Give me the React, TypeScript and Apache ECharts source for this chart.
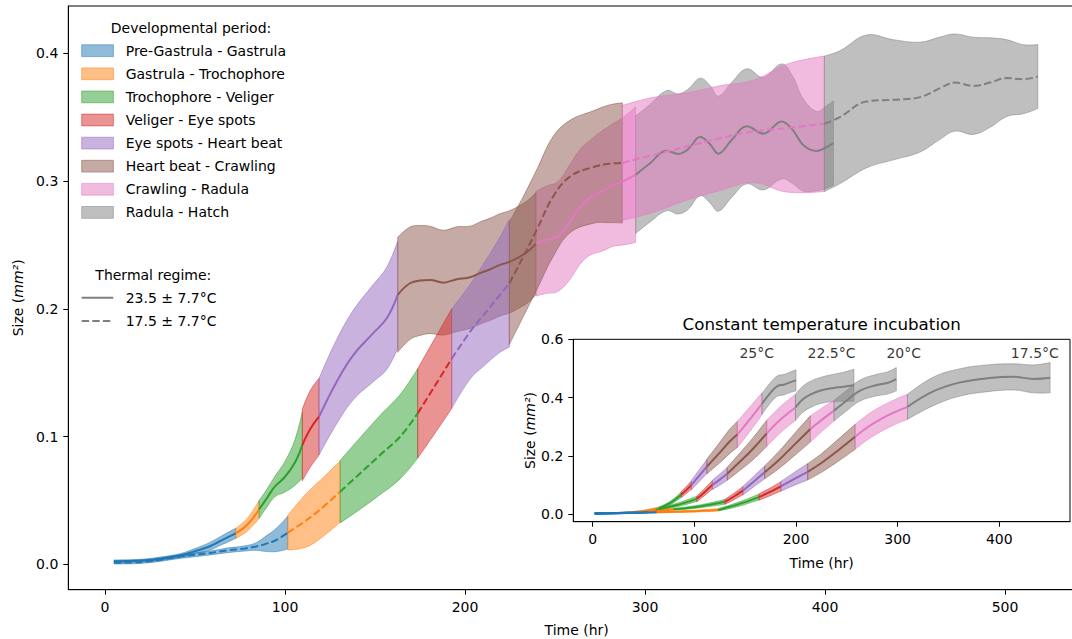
import React, { useEffect, useRef } from "react";
import * as echarts from "echarts";

const FONT = "DejaVu Sans";

const PERIODS = [
  "Pre-Gastrula - Gastrula",
  "Gastrula - Trochophore",
  "Trochophore - Veliger",
  "Veliger - Eye spots",
  "Eye spots - Heart beat",
  "Heart beat - Crawling",
  "Crawling - Radula",
  "Radula - Hatch",
];
const COLORS = ["#1f77b4", "#ff7f0e", "#2ca02c", "#d62728", "#9467bd", "#8c564b", "#e377c2", "#7f7f7f"];
const REGIMES = ["23.5 ± 7.7°C", "17.5 ± 7.7°C"];

// ---- Main chart: 23.5 ± 7.7°C regime (solid) ----
const WARM_X = [
  [5, 20, 31.5, 42, 50, 58, 65, 72.6],
  [72.6, 79, 85.6],
  [85.6, 90, 94.4, 100, 105.6, 109.6],
  [109.6, 114, 118.9],
  [118.9, 128.7, 138, 149, 156.5, 162.6],
  [162.6, 169.4, 175, 180.6, 188, 195.4, 202.8, 208.3, 214, 219.4, 225, 230.6, 235, 239.4],
  [239.4, 245, 251.5, 258.3, 264, 269.4, 276, 282.4, 288, 294.8],
  [294.8, 302.8, 312, 318.5, 324, 330.6, 336, 340.7, 348, 356.5, 365.7, 375.9, 382, 388, 395.4, 400, 404.6],
];
const WARM_MEAN = [
  [0.0025, 0.003, 0.0047, 0.007, 0.0104, 0.014, 0.019, 0.0243],
  [0.0243, 0.031, 0.043],
  [0.043, 0.052, 0.061, 0.0686, 0.08, 0.0934],
  [0.0934, 0.106, 0.1156],
  [0.1156, 0.143, 0.164, 0.181, 0.1926, 0.211],
  [0.211, 0.22, 0.2222, 0.2226, 0.2205, 0.2232, 0.2247, 0.228, 0.231, 0.2344, 0.237, 0.241, 0.245, 0.251],
  [0.251, 0.254, 0.2565, 0.268, 0.28, 0.287, 0.292, 0.297, 0.3, 0.305],
  [0.305, 0.314, 0.3238, 0.3212, 0.325, 0.3345, 0.329, 0.3214, 0.332, 0.3428, 0.3371, 0.3467, 0.34, 0.328, 0.3235, 0.326, 0.3296],
];
const WARM_SD = [
  [0.001, 0.001, 0.0012, 0.0015, 0.002, 0.003, 0.0035, 0.004],
  [0.004, 0.005, 0.007],
  [0.007, 0.007, 0.008, 0.012, 0.018, 0.026],
  [0.028, 0.03, 0.03],
  [0.03, 0.033, 0.035, 0.038, 0.04, 0.042],
  [0.045, 0.044, 0.043, 0.042, 0.041, 0.041, 0.04, 0.04, 0.04, 0.04, 0.04, 0.04, 0.04, 0.04],
  [0.041, 0.042, 0.043, 0.045, 0.045, 0.045, 0.047, 0.048, 0.05, 0.053],
  [0.046, 0.046, 0.047, 0.047, 0.047, 0.046, 0.046, 0.045, 0.045, 0.045, 0.044, 0.045, 0.042, 0.036, 0.031, 0.032, 0.033],
];

// ---- Main chart: 17.5 ± 7.7°C regime (dashed) ----
const COOL_X = [
  [5, 15, 22.2, 30, 40.7, 50, 59.3, 68, 77.8, 84, 88.9, 95, 101.5],
  [101.5, 112, 121.3, 130.6],
  [130.6, 141.7, 152.8, 163.9, 173.7],
  [173.7, 182.4, 192.6],
  [192.6, 202.8, 210.2, 219.4, 224.6],
  [224.6, 232.4, 239.8, 249, 258.3, 271.3, 280, 287.4],
  [287.4, 304.6, 323, 341.7, 360, 378.7, 399.6],
  [399.6, 408.3, 423, 438, 452.8, 463.9, 472.2, 482.4, 491.7, 501, 510.2, 518.2],
];
const COOL_MEAN = [
  [0.0013, 0.0015, 0.002, 0.0035, 0.006, 0.0075, 0.0091, 0.011, 0.0125, 0.014, 0.0159, 0.019, 0.0248],
  [0.0248, 0.0347, 0.0451, 0.0569],
  [0.0569, 0.0712, 0.0856, 0.0999, 0.1182],
  [0.1182, 0.1378, 0.161],
  [0.161, 0.182, 0.195, 0.211, 0.22],
  [0.22, 0.241, 0.2618, 0.288, 0.3035, 0.311, 0.3135, 0.3142],
  [0.3142, 0.3205, 0.327, 0.3336, 0.3388, 0.3414, 0.3448],
  [0.3448, 0.35, 0.3623, 0.3636, 0.3657, 0.3727, 0.3771, 0.3745, 0.3771, 0.3806, 0.3797, 0.3818],
];
const COOL_SD = [
  [0.001, 0.001, 0.001, 0.0012, 0.0015, 0.0015, 0.0015, 0.0018, 0.002, 0.003, 0.0057, 0.009, 0.0128],
  [0.0135, 0.021, 0.023, 0.024],
  [0.0245, 0.028, 0.031, 0.033, 0.035],
  [0.035, 0.037, 0.039],
  [0.039, 0.037, 0.04, 0.045, 0.05],
  [0.048, 0.047, 0.047, 0.047, 0.044, 0.044, 0.046, 0.047],
  [0.045, 0.045, 0.042, 0.041, 0.04, 0.05, 0.053],
  [0.053, 0.052, 0.052, 0.047, 0.043, 0.04, 0.038, 0.038, 0.035, 0.03, 0.027, 0.025],
];

// ---- Inset: constant temperature incubation ----
const INSET_TEMPS = ["25°C", "22.5°C", "20°C", "17.5°C"];
const TEMP_LABEL_X = [161.4, 235, 306, 435];
const TEMP_LABEL_Y = 0.554;

const T25_X = [[2, 18, 36], [36, 50, 65], [65, 76, 87], [87, 92, 97], [97, 104, 112.3], [112.3, 125, 135, 142.3], [142.3, 155, 166.5], [166.5, 175, 182, 188, 194, 200]];
const T25_MEAN = [[0.002, 0.003, 0.005], [0.005, 0.01, 0.02], [0.02, 0.037, 0.066], [0.066, 0.082, 0.099], [0.099, 0.128, 0.163], [0.163, 0.211, 0.25, 0.273], [0.273, 0.327, 0.378], [0.378, 0.417, 0.44, 0.444, 0.452, 0.459]];
const T25_SD = [[0.0015, 0.0015, 0.002], [0.002, 0.003, 0.004], [0.004, 0.006, 0.009], [0.01, 0.012, 0.014], [0.016, 0.02, 0.024], [0.025, 0.035, 0.042, 0.045], [0.045, 0.042, 0.038], [0.036, 0.035, 0.035, 0.035, 0.035, 0.036]];

const T225_X = [[2, 25, 45], [45, 55, 62], [62, 82, 102.4], [102.4, 110, 117.7], [117.7, 125, 132.4], [132.4, 145, 158, 171.2], [171.2, 185, 199.5], [199.5, 207, 215, 225, 237, 247, 257]];
const T225_MEAN = [[0.002, 0.003, 0.006], [0.006, 0.01, 0.014], [0.014, 0.03, 0.052], [0.052, 0.075, 0.1], [0.1, 0.118, 0.138], [0.138, 0.18, 0.225, 0.277], [0.277, 0.325, 0.366], [0.366, 0.395, 0.412, 0.425, 0.433, 0.437, 0.442]];
const T225_SD = [[0.0015, 0.0015, 0.002], [0.002, 0.003, 0.003], [0.003, 0.006, 0.009], [0.01, 0.012, 0.015], [0.016, 0.019, 0.022], [0.022, 0.03, 0.038, 0.045], [0.045, 0.045, 0.045], [0.045, 0.045, 0.045, 0.045, 0.047, 0.05, 0.055]];

const T20_X = [[2, 30, 55], [55, 68, 80], [80, 105, 130.1], [130.1, 139, 147.7], [147.7, 158, 169.2], [169.2, 184, 199, 214.1], [214.1, 226, 237.4], [237.4, 250, 263, 279.5, 290, 298.7]];
const T20_MEAN = [[0.002, 0.003, 0.007], [0.007, 0.011, 0.016], [0.016, 0.026, 0.042], [0.042, 0.06, 0.08], [0.08, 0.11, 0.143], [0.143, 0.188, 0.24, 0.292], [0.292, 0.325, 0.355], [0.355, 0.39, 0.424, 0.443, 0.45, 0.463]];
const T20_SD = [[0.0015, 0.0015, 0.002], [0.002, 0.003, 0.003], [0.003, 0.005, 0.008], [0.009, 0.011, 0.014], [0.015, 0.018, 0.022], [0.022, 0.03, 0.038, 0.045], [0.045, 0.04, 0.036], [0.035, 0.035, 0.036, 0.037, 0.038, 0.04]];

const T175_X = [[2, 35, 63], [63, 95, 123.4], [123.4, 143, 163.5], [163.5, 174, 185.1], [185.1, 198, 211.5], [211.5, 225, 242, 258.2], [258.2, 270, 283, 296, 309.7], [309.7, 335, 361.5, 388, 414, 434, 450]];
const T175_MEAN = [[0.002, 0.003, 0.006], [0.006, 0.009, 0.014], [0.014, 0.033, 0.058], [0.058, 0.075, 0.095], [0.095, 0.12, 0.145], [0.145, 0.175, 0.22, 0.265], [0.265, 0.297, 0.325, 0.348, 0.368], [0.368, 0.421, 0.452, 0.466, 0.471, 0.464, 0.468]];
const T175_SD = [[0.0015, 0.0015, 0.002], [0.002, 0.003, 0.004], [0.004, 0.007, 0.01], [0.011, 0.013, 0.016], [0.017, 0.022, 0.028], [0.028, 0.032, 0.038, 0.043], [0.043, 0.043, 0.043, 0.043, 0.043], [0.043, 0.049, 0.047, 0.046, 0.045, 0.048, 0.052]];

const MAIN_X_TICKS = [0, 100, 200, 300, 400, 500];
const MAIN_Y_TICKS = [0, 0.1, 0.2, 0.3, 0.4];
const INSET_X_TICKS = [0, 100, 200, 300, 400];
const INSET_Y_TICKS = [0, 0.2, 0.4, 0.6];

function rgba(hex: string, a: number) {
  const n = parseInt(hex.slice(1), 16);
  return `rgba(${(n >> 16) & 255},${(n >> 8) & 255},${n & 255},${a})`;
}

const SMOOTH = 0.4;

// Bezier path through pixel points (same control-point rule as ECharts' smooth lines)
function smoothPath(pts: number[][], smooth: number, move: boolean) {
  const n = pts.length;
  let d = (move ? "M" : "L") + pts[0][0] + "," + pts[0][1];
  const cps = pts.map((p, i) => {
    if (i === 0 || i === n - 1) return [p, p];
    const prev = pts[i - 1];
    const next = pts[i + 1];
    const vx = (next[0] - prev[0]) * smooth;
    const vy = (next[1] - prev[1]) * smooth;
    const d0 = Math.hypot(p[0] - prev[0], p[1] - prev[1]);
    const d1 = Math.hypot(next[0] - p[0], next[1] - p[1]);
    const s = d0 + d1 || 1;
    return [
      [p[0] - (vx * d0) / s, p[1] - (vy * d0) / s],
      [p[0] + (vx * d1) / s, p[1] + (vy * d1) / s],
    ];
  });
  for (let i = 1; i < n; i++) {
    const c1 = cps[i - 1][1];
    const c2 = cps[i][0];
    const p = pts[i];
    d += ` C${c1[0]},${c1[1]} ${c2[0]},${c2[1]} ${p[0]},${p[1]}`;
  }
  return d;
}

function bandSeries(xs: number[], m: number[], sd: number[], color: string, axis: number) {
  const rows = xs.map((x, i) => [x, m[i] - sd[i], m[i] + sd[i]]);
  return {
    type: "custom",
    coordinateSystem: "cartesian2d",
    xAxisIndex: axis,
    yAxisIndex: axis,
    data: rows,
    encode: { x: 0, y: [1, 2] },
    silent: true,
    clip: true,
    z: 2,
    renderItem: (params: any, api: any) => {
      if (params.dataIndex !== 0) return null;
      const up = rows.map((r) => api.coord([r[0], r[2]]));
      const lo = rows.map((r) => api.coord([r[0], r[1]])).reverse();
      const d = smoothPath(up, SMOOTH, true) + " " + smoothPath(lo, SMOOTH, false) + " Z";
      return {
        type: "path",
        shape: { pathData: d },
        style: { fill: rgba(color, 0.5), stroke: rgba(color, 0.5), lineWidth: 1 },
      };
    },
  };
}

function lineSeries(xs: number[], m: number[], color: string, axis: number, dashed: boolean) {
  return {
    type: "line",
    xAxisIndex: axis,
    yAxisIndex: axis,
    data: xs.map((x, i) => [x, m[i]]),
    smooth: SMOOTH,
    symbol: "none",
    silent: true,
    z: 3,
    lineStyle: { color, width: 2, type: dashed ? [7.4, 3.2] : "solid" },
  };
}

const textStyle = { color: "#000", fontSize: 14, fontFamily: FONT };

function axisX(grid: number, min: number, max: number, ticks: number[], gap: number) {
  return {
    type: "value",
    gridIndex: grid,
    min,
    max,
    axisLine: { show: true, onZero: false, lineStyle: { color: "#000", width: 1 } },
    axisTick: { show: true, length: 5, customValues: ticks, lineStyle: { color: "#000" } },
    axisLabel: { ...textStyle, customValues: ticks, margin: 10, formatter: (v: number) => String(v) },
    splitLine: { show: false },
    name: "Time (hr)",
    nameLocation: "middle",
    nameGap: gap,
    nameTextStyle: textStyle,
  };
}

function axisY(grid: number, min: number, max: number, ticks: number[], gap: number) {
  return {
    type: "value",
    gridIndex: grid,
    min,
    max,
    axisLine: { show: true, onZero: false, lineStyle: { color: "#000", width: 1 } },
    axisTick: { show: true, length: 5, customValues: ticks, lineStyle: { color: "#000" } },
    axisLabel: { ...textStyle, customValues: ticks, margin: 10, formatter: (v: number) => v.toFixed(1) },
    splitLine: { show: false },
    name: "{n|Size (}{i|mm²}{n|)}",
    nameLocation: "middle",
    nameRotate: 90,
    nameGap: gap,
    nameTextStyle: {
      ...textStyle,
      rich: {
        n: { fontSize: 14, fontFamily: FONT, color: "#000" },
        i: { fontSize: 14, fontFamily: FONT, fontStyle: "italic", color: "#000" },
      },
    },
  };
}

export default function App() {
  const ref = useRef<HTMLDivElement>(null);

  useEffect(() => {
    document.body.style.margin = "0";
    if (!ref.current) return;
    const chart = echarts.init(ref.current, null, { renderer: "svg" });

    const bands: any[] = [];
    const lines: any[] = [];

    PERIODS.forEach((_, p) => {
      bands.push(bandSeries(WARM_X[p], WARM_MEAN[p], WARM_SD[p], COLORS[p], 0));
      lines.push(lineSeries(WARM_X[p], WARM_MEAN[p], COLORS[p], 0, false));
    });
    PERIODS.forEach((_, p) => {
      bands.push(bandSeries(COOL_X[p], COOL_MEAN[p], COOL_SD[p], COLORS[p], 0));
      lines.push(lineSeries(COOL_X[p], COOL_MEAN[p], COLORS[p], 0, true));
    });

    const inset = [
      [T25_X, T25_MEAN, T25_SD],
      [T225_X, T225_MEAN, T225_SD],
      [T20_X, T20_MEAN, T20_SD],
      [T175_X, T175_MEAN, T175_SD],
    ];
    inset.forEach(([X, M, S]) => {
      PERIODS.forEach((_, p) => {
        bands.push(bandSeries(X[p], M[p], S[p], COLORS[p], 1));
        lines.push(lineSeries(X[p], M[p], COLORS[p], 1, false));
      });
    });

    const labels = {
      type: "scatter",
      xAxisIndex: 1,
      yAxisIndex: 1,
      symbolSize: 1,
      itemStyle: { color: "transparent" },
      silent: true,
      z: 5,
      data: TEMP_LABEL_X.map((x, i) => ({ value: [x, TEMP_LABEL_Y], name: INSET_TEMPS[i] })),
      label: { show: true, position: "inside", formatter: (p: any) => p.name, ...textStyle },
    };

    const txt = (text: string, x: number, y: number, align: string, size = 14) => ({
      type: "text",
      style: {
        text,
        x,
        y,
        fill: "#000",
        font: `${size}px "${FONT}"`,
        align,
        verticalAlign: "middle",
        textAlign: align,
        textVerticalAlign: "middle",
      },
    });

    const graphics: any[] = [];
    graphics.push(txt("Developmental period:", 191, 28, "center"));
    PERIODS.forEach((name, i) => {
      const cy = 50.7 + i * 23.1;
      graphics.push({
        type: "rect",
        shape: { x: 81.7, y: cy - 5.9, width: 31.7, height: 11.8 },
        style: { fill: rgba(COLORS[i], 0.5), stroke: rgba(COLORS[i], 0.5), lineWidth: 1 },
      });
      graphics.push(txt(name, 125.7, cy, "left"));
    });
    graphics.push(txt("Thermal regime:", 153.3, 274.5, "center"));
    REGIMES.forEach((name, i) => {
      const cy = 297.7 + i * 23.3;
      graphics.push({
        type: "line",
        shape: { x1: 81.7, y1: cy, x2: 113.3, y2: cy },
        style: { stroke: "#7f7f7f", lineWidth: 2, lineDash: i === 1 ? [7.4, 3.2] : null },
      });
      graphics.push(txt(name, 125.7, cy, "left"));
    });
    graphics.push(txt("Constant temperature incubation", 821.7, 324, "center", 16.7));

    chart.setOption({
      animation: false,
      backgroundColor: "#fff",
      grid: [
        { left: 68.3, top: 6, width: 1016.7, height: 583.7, show: true, borderColor: "#000", borderWidth: 1, containLabel: false, outerBoundsMode: "none" },
        { left: 573.3, top: 339.3, width: 496.7, height: 182.4, show: true, backgroundColor: "#fff", borderColor: "#000", borderWidth: 1, containLabel: false, outerBoundsMode: "none" },
      ],
      xAxis: [axisX(0, -20.4, 544.4, MAIN_X_TICKS, 33), axisX(1, -19.1, 469.6, INSET_X_TICKS, 34)],
      yAxis: [axisY(0, -0.0198, 0.437, MAIN_Y_TICKS, 42), axisY(1, -0.0265, 0.6, INSET_Y_TICKS, 36)],
      graphic: graphics,
      series: [...bands, ...lines, labels],
    });

    return () => chart.dispose();
  }, []);

  return <div ref={ref} style={{ width: 1072, height: 639 }} />;
}
